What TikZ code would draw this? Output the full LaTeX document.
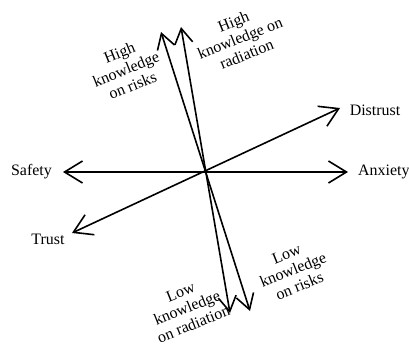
\documentclass[tikz,border=0pt]{standalone}
\usepackage{fontspec}
\setmainfont{Liberation Serif}
\usetikzlibrary{arrows.meta}
\begin{document}
\begin{tikzpicture}[x=1bp,y=-1bp,
  axis/.style={line width=1.6bp,
    {Straight Barb[length=18bp,width=22bp,line width=1.6bp]}-{Straight Barb[length=18bp,width=22bp,line width=1.6bp]}},
  knowaxis/.style={line width=1.6bp,
    {Straight Barb[length=15bp,width=18bp,line width=1.6bp]}-{Straight Barb[length=15bp,width=18bp,line width=1.6bp]}},
  lbl/.style={font=\fontsize{16}{17.5}\selectfont, inner sep=0pt},
  knowlbl/.style={lbl, align=center, rotate=22},
]
\useasboundingbox (0,0) rectangle (409,347);

% axis end points
\coordinate (safetyTip)   at (63,172);
\coordinate (anxietyTip)  at (348,172);
\coordinate (trustTip)    at (72,233);
\coordinate (distrustTip) at (340,108);
\coordinate (riskHigh)    at (161,32);
\coordinate (riskLow)     at (250,311);
\coordinate (radHigh)     at (181,27);
\coordinate (radLow)      at (230,313);

% axes
\draw[axis] (safetyTip) -- (anxietyTip);
\draw[axis] (trustTip) -- (distrustTip);
\draw[knowaxis] (riskHigh) -- (riskLow);
\draw[knowaxis] (radHigh) -- (radLow);

% labels
\node[lbl, anchor=east] (safety) at (52,172) {Safety};
\node[lbl, anchor=west] (anxiety) at (358,172) {Anxiety};
\node[lbl] (trust) at (48,239) {Trust};
\node[lbl] (distrust) at (375,110) {Distrust};
\node[knowlbl] (highRisks) at (126,69) {High\\knowledge\\on risks};
\node[knowlbl] (highRad) at (240,38) {High\\knowledge on\\radiation};
\node[knowlbl] (lowRad) at (187,308) {Low\\knowledge\\on radiation};
\node[knowlbl] (lowRisks) at (293,270) {Low\\knowledge\\on risks};
\end{tikzpicture}
\end{document}
